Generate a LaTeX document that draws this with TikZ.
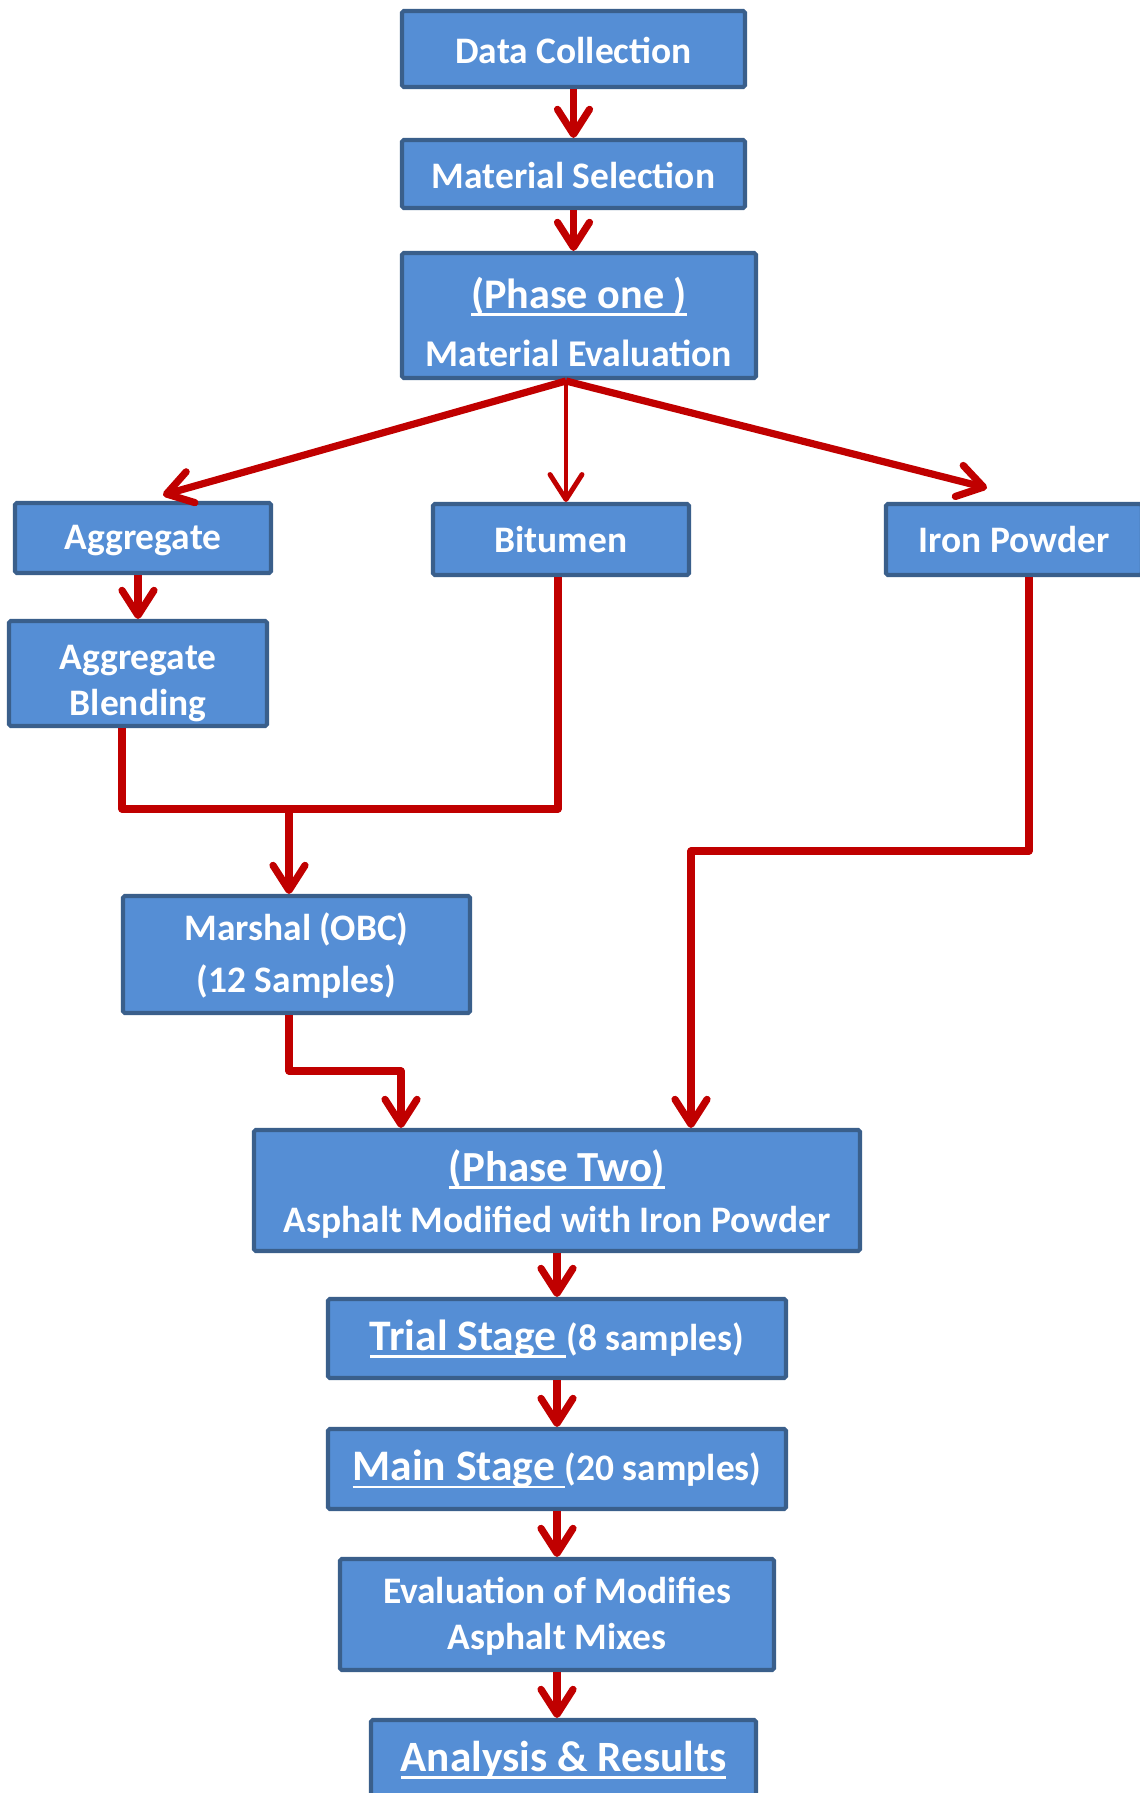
\documentclass[tikz,border=0pt]{standalone}
\usepackage{fontspec}
\setmainfont{Carlito}
\usetikzlibrary{arrows.meta}
\definecolor{caja}{HTML}{558ED5}
\definecolor{borde}{HTML}{3A5F8B}
\definecolor{flecha}{HTML}{C00000}
\newsavebox\undrbox
\newcommand{\undr}[1]{\sbox\undrbox{#1}\rlap{\rule[-0.17em]{\wd\undrbox}{0.055em}}\usebox\undrbox}

\begin{document}
\begin{tikzpicture}[
  box/.style={draw=borde,fill=caja,line width=2.3pt,rounded corners=1pt,text=white,align=center,
    font=\bfseries\fontsize{21.3}{26}\selectfont,inner sep=2pt},
  link/.style={draw=flecha,line width=4.1pt,line join=round},
  arr/.style={link,-{Straight Barb[length=0.5cm,width=0.64cm,line cap=round,line join=round]}}]
  \useasboundingbox (0,0) rectangle (22.78,-35.86);
  \node[box,minimum width=6.86cm,minimum height=1.52cm] (data) at (11.47,-0.98) {\fontsize{21.3}{26}\selectfont\rule{0pt}{0.8em}Data Collection};
  \node[box,minimum width=6.86cm,minimum height=1.36cm] (sel) at (11.47,-3.48) {\rule{0pt}{0.8em}Material Selection};
  \node[box,minimum width=7.08cm,minimum height=2.5cm] (ph1) at (11.58,-6.31) {{\fontsize{24}{27}\selectfont\rule{0pt}{1.05em}\undr{(Phase one )}}\\[7pt]{\fontsize{21.5}{26}\selectfont Material Evaluation}};
  \node[box,minimum width=5.12cm,minimum height=1.4cm] (agg) at (2.86,-10.76) {\rule{0pt}{0.8em}Aggregate};
  \node[box,minimum width=5.12cm,minimum height=1.42cm] (bit) at (11.22,-10.79) {Bitumen};
  \node[box,minimum width=5.12cm,minimum height=1.42cm] (iron) at (20.28,-10.79) {Iron Powder};
  \node[box,minimum width=5.16cm,minimum height=2.1cm,inner ysep=0pt] (blend) at (2.76,-13.47) {\rule{0pt}{1.2em}Aggregate\\Blending};
  \node[box,minimum width=6.94cm,minimum height=2.34cm] (marsh) at (5.93,-19.09) {\rule{0pt}{0.8em}Marshal (OBC)\\[4pt](12 Samples)};
  \node[box,minimum width=12.12cm,minimum height=2.42cm] (ph2) at (11.14,-23.81) {{\fontsize{24.4}{27}\selectfont\rule{0pt}{0.9em}\undr{(Phase Two)}}\\[3pt]Asphalt Modified with Iron Powder};
  \node[box,minimum width=9.16cm,minimum height=1.58cm] (trial) at (11.14,-26.77) {{\fontsize{24.8}{28}\selectfont\undr{Trial Stage\ }}(8 samples)};
  \node[box,minimum width=9.16cm,minimum height=1.6cm] (main) at (11.14,-29.38) {{\fontsize{24.8}{28}\selectfont\undr{Main Stage\ }}(20 samples)};
  \node[box,minimum width=8.68cm,minimum height=2.22cm] (evalm) at (11.14,-32.29) {\rule{0pt}{0.8em}Evaluation of Modifies\\Asphalt Mixes};
  \node[box,minimum width=7.7cm,minimum height=1.6cm] (res) at (11.27,-35.2) {\fontsize{24.6}{28}\selectfont\undr{Analysis \& Results}};

  \coordinate (fork) at (11.32,-7.62);
  \coordinate (aggin) at (3.26,-9.9);
  \coordinate (ironin) at (19.74,-9.76);
  \coordinate (joint) at (5.78,-16.18);
  \coordinate (mbend) at (8.02,-21.42);
  \coordinate (ibend) at (13.82,-17.02);

  \draw[arr] (data) -- (sel);
  \draw[arr] (sel.south) -- (sel.south |- ph1.north);
  \draw[arr] (fork) -- (aggin);
  \draw[arr,line width=2.8pt] (fork) -- (fork |- bit.north);
  \draw[arr] (fork) -- (ironin);
  \draw[arr] (agg.south -| blend.north) -- (blend.north);
  \draw[link] ([xshift=-0.32cm]blend.south) |- (joint);
  \draw[link] ([xshift=-0.06cm]bit.south) |- (joint);
  \draw[arr] (joint) -- (joint |- marsh.north);
  \draw[arr] ([xshift=-0.15cm]marsh.south) |- (mbend) -- (mbend |- ph2.north);
  \draw[arr] ([xshift=0.3cm]iron.south) |- (ibend) -- (ibend |- ph2.north);
  \draw[arr] (ph2) -- (trial);
  \draw[arr] (trial) -- (main);
  \draw[arr] (main) -- (evalm);
  \draw[arr] (evalm.south) -- (evalm.south |- res.north);
\end{tikzpicture}
\end{document}
